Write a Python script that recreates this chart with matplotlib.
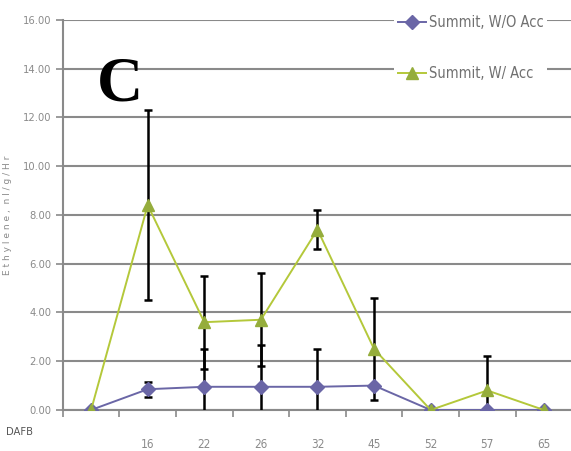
import matplotlib
matplotlib.use("Agg")
import matplotlib.pyplot as plt

# days after full bloom (first category has no label)
dafb = ["", "16", "22", "26", "32", "45", "52", "57", "65"]

wo_acc = [0.0, 0.85, 0.95, 0.95, 0.95, 1.0, 0.0, 0.0, 0.0]
wo_err = [0.0, 0.3, 1.55, 1.7, 1.55, 0.0, 0.0, 0.0, 0.0]

w_acc = [0.0, 8.4, 3.6, 3.7, 7.4, 2.5, 0.0, 0.8, 0.0]
w_err = [0.0, 3.9, 1.9, 1.9, 0.8, 2.1, 0.0, 1.4, 0.0]

purple = "#6a66a6"
green_line = "#b4c83a"
green_mark = "#95ad3c"
grid_c = "#8a8a8a"
tick_font = dict(family="DejaVu Sans", stretch="condensed")

fig = plt.figure(figsize=(5.71, 4.51), dpi=100)
ax = fig.add_axes([0.110, 0.091, 0.892, 0.865])

x = list(range(len(dafb)))

ax.errorbar(x, wo_acc, yerr=wo_err, fmt="none", ecolor="black",
            elinewidth=1.8, capsize=3, capthick=1.8, zorder=3)
ax.errorbar(x, w_acc, yerr=w_err, fmt="none", ecolor="black",
            elinewidth=1.8, capsize=3, capthick=1.8, zorder=3)

ax.plot(x, wo_acc, color=purple, lw=1.4, marker="D", ms=7,
        mfc=purple, mec=purple, label="Summit, W/O Acc", zorder=4)
ax.plot(x, w_acc, color=green_line, lw=1.4, marker="^", ms=8,
        mfc=green_mark, mec=green_mark, label="Summit, W/ Acc", zorder=4)

ax.set_xlim(-0.5, 8.5)
ax.set_ylim(0, 16)
ax.set_yticks(range(0, 17, 2))
ax.set_yticklabels([f"{v:.2f}" for v in range(0, 17, 2)],
                   fontsize=8, color="#8a8a8a", **tick_font)
ax.set_xticks(x)
ax.set_xticklabels(dafb, fontsize=8.5, color="#8a8a8a", **tick_font)
ax.set_xticks([i + 0.5 for i in range(-1, 9)], minor=True)
ax.tick_params(axis="x", which="major", length=0, pad=20)
ax.tick_params(axis="x", which="minor", length=5, color=grid_c, width=1.2)
ax.tick_params(axis="y", length=5, color=grid_c, width=1.2, pad=3)

ax.grid(axis="y", color=grid_c, lw=1.5)
ax.set_axisbelow(True)
for s in ["top", "right"]:
    ax.spines[s].set_visible(False)
ax.spines["left"].set_color(grid_c)
ax.spines["bottom"].set_color(grid_c)
ax.spines["left"].set_linewidth(1.5)
ax.spines["bottom"].set_linewidth(1.5)

ax.set_ylabel("E t h y l e n e ,  n l / g / H r", fontsize=6.5, color="#8a8a8a",
              labelpad=8)

leg = ax.legend(loc="upper right", bbox_to_anchor=(0.965, 1.04), frameon=True,
                facecolor="white", edgecolor="none", framealpha=1,
                labelspacing=2.45, handlelength=1.9, handletextpad=0.2,
                prop=dict(size=10.5, **tick_font), borderpad=0.25)
for t in leg.get_texts():
    t.set_color("#707070")

fig.text(0.21, 0.81, "C", fontsize=46, fontweight="bold",
         family=["Liberation Serif", "DejaVu Serif"], ha="center", va="center")
fig.text(0.035, 0.042, "DAFB", fontsize=8, color="#555555",
         ha="center", va="center", **tick_font)

fig.savefig("out.png", dpi=100)
